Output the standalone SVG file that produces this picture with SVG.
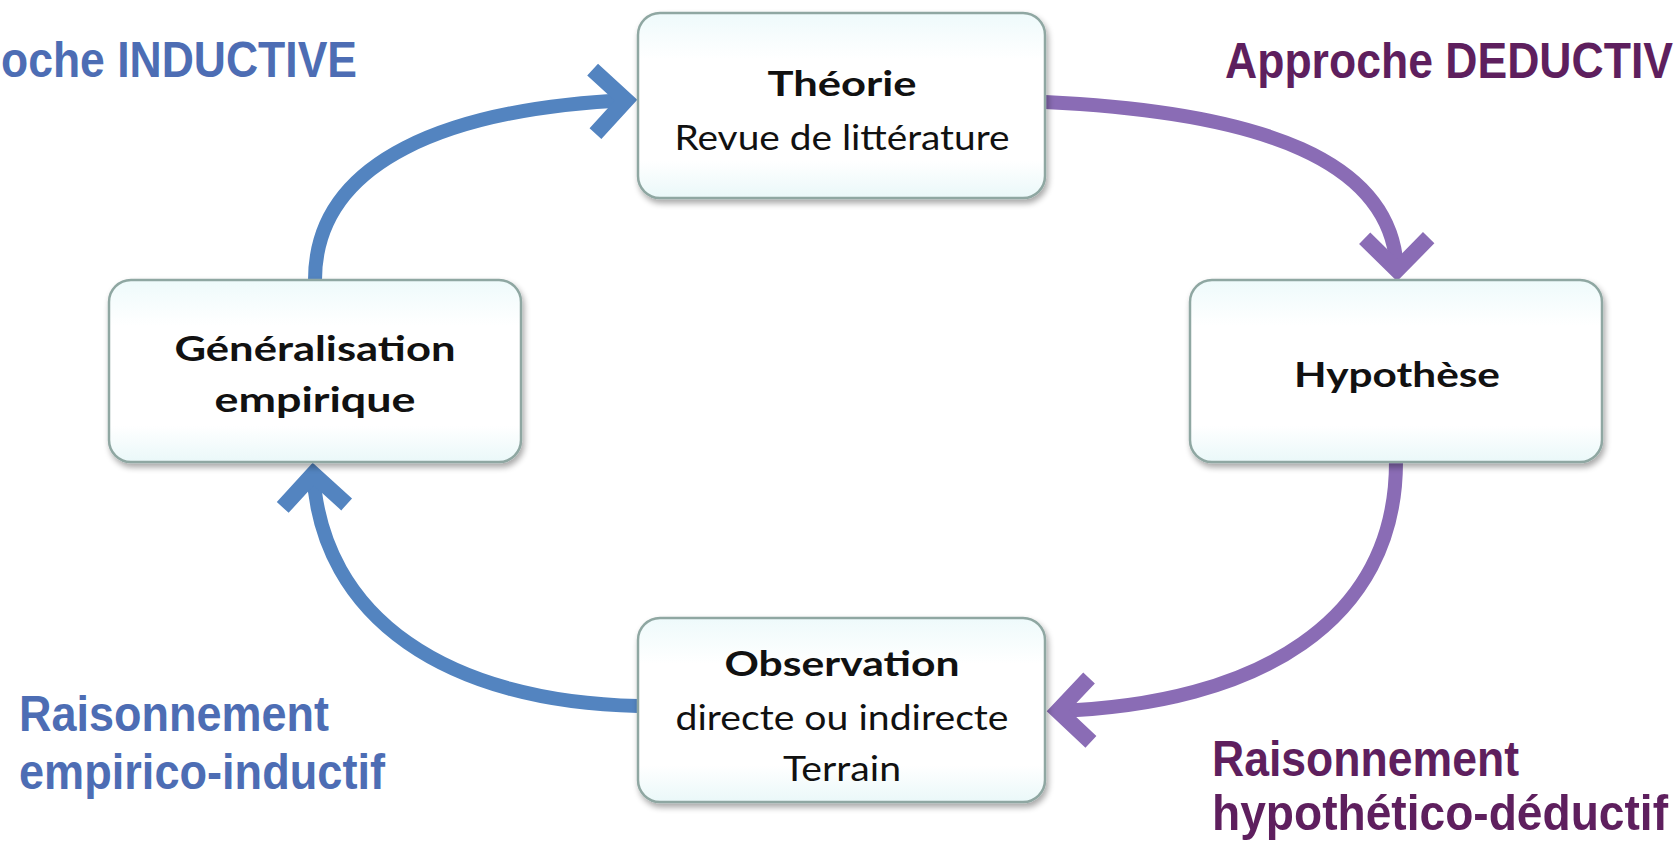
<svg xmlns="http://www.w3.org/2000/svg" width="1677" height="850" viewBox="0 0 1677 850">
<defs>
<linearGradient id="boxfill" x1="0" y1="0" x2="0" y2="1">
<stop offset="0" stop-color="#eefafb"/>
<stop offset="0.25" stop-color="#ffffff"/>
<stop offset="0.8" stop-color="#ffffff"/>
<stop offset="1" stop-color="#eaf8f9"/>
</linearGradient>
<filter id="shadow" x="-10%" y="-10%" width="120%" height="130%">
<feGaussianBlur in="SourceAlpha" stdDeviation="3"/>
<feOffset dx="2" dy="4" result="b"/>
<feComponentTransfer><feFuncA type="linear" slope="0.35"/></feComponentTransfer>
<feMerge><feMergeNode/><feMergeNode in="SourceGraphic"/></feMerge>
</filter>
<marker id="chevBlue" markerUnits="userSpaceOnUse" viewBox="-60 -50 80 100" refX="0" refY="0" markerWidth="80" markerHeight="100" orient="auto">
<path d="M -36 -32 L -4 0 L -36 32" fill="none" stroke="#5384c0" stroke-width="16" stroke-linejoin="miter"/>
</marker>
<marker id="chevPurple" markerUnits="userSpaceOnUse" viewBox="-60 -50 80 100" refX="0" refY="0" markerWidth="80" markerHeight="100" orient="auto">
<path d="M -36 -32 L -4 0 L -36 32" fill="none" stroke="#8a6cb5" stroke-width="16" stroke-linejoin="miter"/>
</marker>
</defs>
<style>
.box{fill:url(#boxfill);stroke:#8fa7a2;stroke-width:2.5;filter:url(#shadow)}
.t{font-family:"Lato","Open Sans","Liberation Sans",sans-serif;font-size:35px;fill:#111;text-anchor:middle}
.b{font-weight:bold}
.lbl{font-family:"Liberation Sans",Arial,sans-serif;font-weight:bold;font-size:45px}
.blue{fill:#4d6db4}
.purple{fill:#5e1f5e}
.cb{fill:none;stroke:#5384c0;stroke-width:14;marker-end:url(#chevBlue)}
.cp{fill:none;stroke:#8a6cb5;stroke-width:14;marker-end:url(#chevPurple)}
</style>
<rect width="1677" height="850" fill="#ffffff"/>

<g id="connectors">
<path class="cb" d="M 315 280 C 315 160, 450 108, 630 100"/>
<path class="cp" d="M 1045 102 C 1260 112, 1396 160, 1397 274"/>
<path class="cp" d="M 1396 462 C 1396 620, 1260 705, 1054 711"/>
<path class="cb" d="M 638 706 C 450 702, 320 620, 313 470"/>
</g>

<g id="node-theorie">
<rect class="box" x="638" y="13" width="407" height="185" rx="22"/>
<text class="t b" x="842" y="96" textLength="149" lengthAdjust="spacingAndGlyphs">Théorie</text>
<text class="t" x="842" y="150" textLength="335" lengthAdjust="spacingAndGlyphs">Revue de littérature</text>
</g>

<g id="node-hypothese">
<rect class="box" x="1190" y="280" width="412" height="182" rx="22"/>
<text class="t b" x="1397" y="387" textLength="206" lengthAdjust="spacingAndGlyphs">Hypothèse</text>
</g>

<g id="node-generalisation">
<rect class="box" x="109" y="280" width="412" height="182" rx="22"/>
<text class="t b" x="315" y="361" textLength="281" lengthAdjust="spacingAndGlyphs">Généralisation</text>
<text class="t b" x="315" y="412" textLength="201" lengthAdjust="spacingAndGlyphs">empirique</text>
</g>

<g id="node-observation">
<rect class="box" x="638" y="618" width="407" height="184" rx="22"/>
<text class="t b" x="842" y="676" textLength="235" lengthAdjust="spacingAndGlyphs">Observation</text>
<text class="t" x="842" y="730" textLength="333" lengthAdjust="spacingAndGlyphs">directe ou indirecte</text>
<text class="t" x="842" y="781" textLength="118" lengthAdjust="spacingAndGlyphs">Terrain</text>
</g>

<g id="labels">
<text class="lbl blue" transform="translate(1 77) scale(1 1.12)" textLength="356" lengthAdjust="spacingAndGlyphs">oche INDUCTIVE</text>
<text class="lbl purple" transform="translate(1225 78) scale(1 1.12)" textLength="448" lengthAdjust="spacingAndGlyphs">Approche DEDUCTIV</text>
<text class="lbl blue" transform="translate(19 731) scale(1 1.12)" textLength="310" lengthAdjust="spacingAndGlyphs">Raisonnement</text>
<text class="lbl blue" transform="translate(19 789) scale(1 1.12)" textLength="366" lengthAdjust="spacingAndGlyphs">empirico-inductif</text>
<text class="lbl purple" transform="translate(1212 776) scale(1 1.12)" textLength="307" lengthAdjust="spacingAndGlyphs">Raisonnement</text>
<text class="lbl purple" transform="translate(1212 830) scale(1 1.12)" textLength="456" lengthAdjust="spacingAndGlyphs">hypothético-déductif</text>
</g>
</svg>
